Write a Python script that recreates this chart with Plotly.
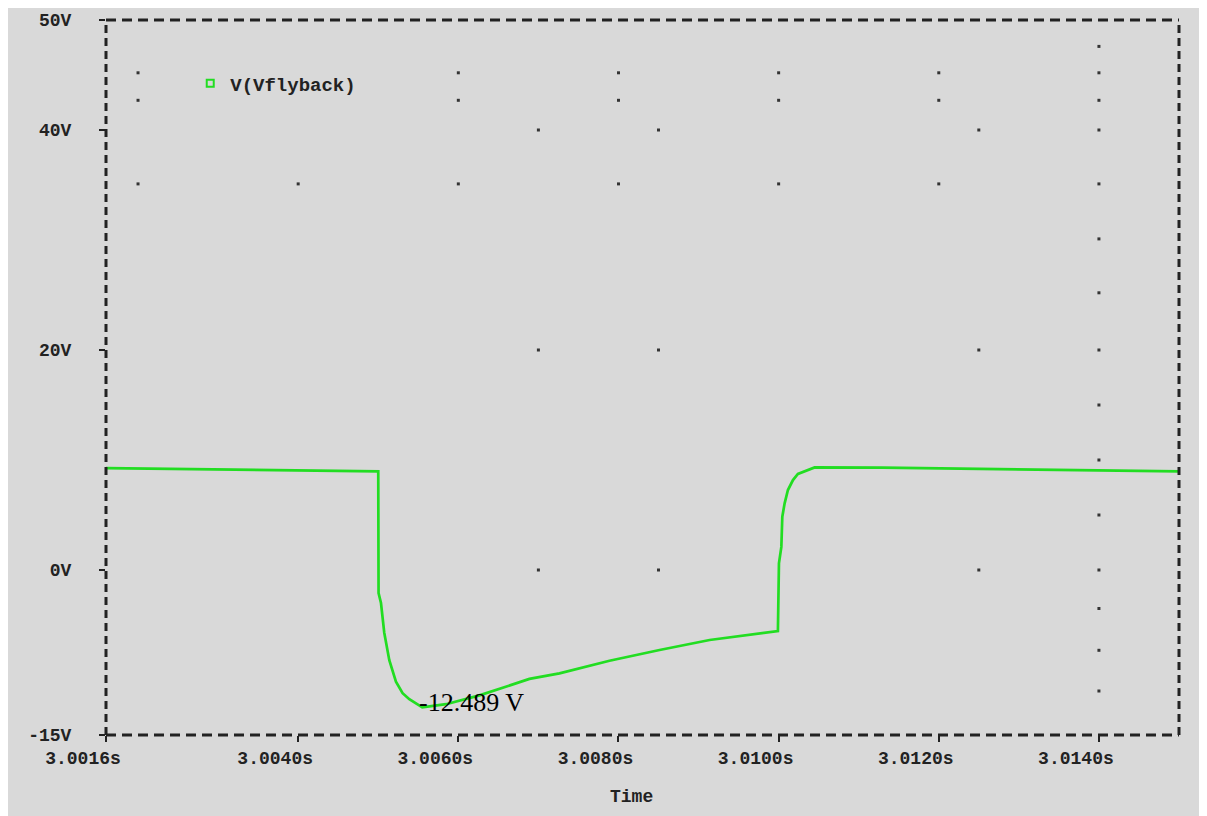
import plotly.graph_objects as go

# ---- data ----
time_s = [3.0016, 3.0022, 3.0030, 3.0038, 3.00500, 3.005004, 3.005034, 3.005075,
          3.005138, 3.005221, 3.005304, 3.005388, 3.005513, 3.00555, 3.005846,
          3.006263, 3.006888, 3.007263, 3.007888, 3.008513, 3.009138, 3.009763,
          3.009991, 3.010004, 3.010034, 3.010046, 3.010075, 3.010116, 3.010179,
          3.010241, 3.010346, 3.010450, 3.011296, 3.012638, 3.013763, 3.0150]
v_flyback = [9.27, 9.22, 9.12, 9.04, 8.97, -2.1, -3.0, -5.7,
             -8.2, -10.15, -11.2, -11.75, -12.3, -12.489, -12.2,
             -11.4, -9.9, -9.4, -8.25, -7.27, -6.36, -5.75,
             -5.55, 0.6, 2.1, 4.85, 6.06, 7.27, 8.18,
             8.73, 9.03, 9.33, 9.30, 9.18, 9.06, 8.97]

x_tick_vals = [3.0016, 3.0040, 3.0060, 3.0080, 3.0100, 3.0120, 3.0140]
x_tick_text = ["3.0016s", "3.0040s", "3.0060s", "3.0080s", "3.0100s", "3.0120s", "3.0140s"]
y_tick_vals = [-15, 0, 20, 40, 50]
y_tick_text = ["-15V", "0V", "20V", "40V", "50V"]

marker_label = "-12.489 V"
marker_t = 3.00549
marker_v = -12.489

# leftover grid dots visible in the reference
dot_t = ([3.0020, 3.0060, 3.0080, 3.0100, 3.0120, 3.0140] * 2
         + [3.0070, 3.0085, 3.0125, 3.0140]
         + [3.0020, 3.0040, 3.0060, 3.0080, 3.0100, 3.0120, 3.0140]
         + [3.0070, 3.0085, 3.0125, 3.0140] * 2
         + [3.0140] * 9)
dot_v = ([45.2] * 6 + [42.7] * 6
         + [40] * 4
         + [35.1] * 7
         + [20] * 4 + [0] * 4
         + [47.6, 30.1, 25.2, 15, 10, 5, -3.5, -7.3, -11])

GREEN = "#22dd22"
INK = "#222222"
BG = "#d9d9d9"
MONO = "Liberation Mono"

fig = go.Figure()
fig.add_trace(go.Scatter(x=dot_t, y=dot_v, mode="markers", showlegend=False,
                         hoverinfo="skip",
                         marker=dict(symbol="square", size=3, color="#333333")))
fig.add_trace(go.Scatter(x=time_s, y=v_flyback, mode="lines", showlegend=False,
                         line=dict(color=GREEN, width=2.7)))
fig.add_trace(go.Scatter(x=[None], y=[None], mode="markers", name="V(Vflyback)",
                         marker=dict(symbol="square-open", size=7, color=GREEN,
                                     line=dict(width=2, color=GREEN))))

dash_h = "10px,6px"
dash_v = "8px,5px"
for (x0, y0, x1, y1, d) in [(0, 0, 1, 0, dash_h), (0, 1, 1, 1, dash_h),
                            (0, 0, 0, 1, dash_v), (1, 0, 1, 1, dash_v)]:
    fig.add_shape(type="line", xref="paper", yref="paper", x0=x0, y0=y0, x1=x1, y1=y1,
                  line=dict(color=INK, width=3, dash=d))

fig.add_annotation(x=marker_t, y=marker_v, xref="x", yref="y", text=marker_label,
                   showarrow=False, xanchor="left", yanchor="middle", yshift=5,
                   font=dict(family="Liberation Serif", size=26, color="black"))

fig.add_annotation(x=0.5, y=0, xref="paper", yref="paper", text="Time",
                   showarrow=False, xanchor="center", yanchor="top",
                   xshift=-11, yshift=-50,
                   font=dict(family=MONO, size=18, color=INK, weight="bold"))

fig.update_layout(
    width=1199, height=808,
    margin=dict(l=98, r=28, t=12, b=81, autoexpand=False),
    paper_bgcolor=BG, plot_bgcolor=BG,
    font=dict(family=MONO, size=18, color=INK),
    legend=dict(x=0.0785, y=0.938, xanchor="left", yanchor="top",
                bgcolor="rgba(0,0,0,0)", font=dict(family=MONO, size=19, color=INK,
                                                   weight="bold")),
    xaxis=dict(range=[3.0016, 3.0150], tickvals=x_tick_vals, ticktext=x_tick_text,
               showgrid=False, zeroline=False, showline=False, automargin=False,
               ticks="outside", ticklen=6, tickwidth=2, tickcolor=INK,
               ticklabelshift=-23,
               tickfont=dict(family=MONO, size=18, color=INK, weight="bold")),
    yaxis=dict(range=[-15, 50], tickvals=y_tick_vals, ticktext=y_tick_text,
               showgrid=False, zeroline=False, showline=False, automargin=False,
               ticks="outside", ticklen=6, tickwidth=2, tickcolor=INK,
               ticklabelstandoff=24,
               tickfont=dict(family=MONO, size=18, color=INK, weight="bold")),
)

fig.write_html("out.html")
